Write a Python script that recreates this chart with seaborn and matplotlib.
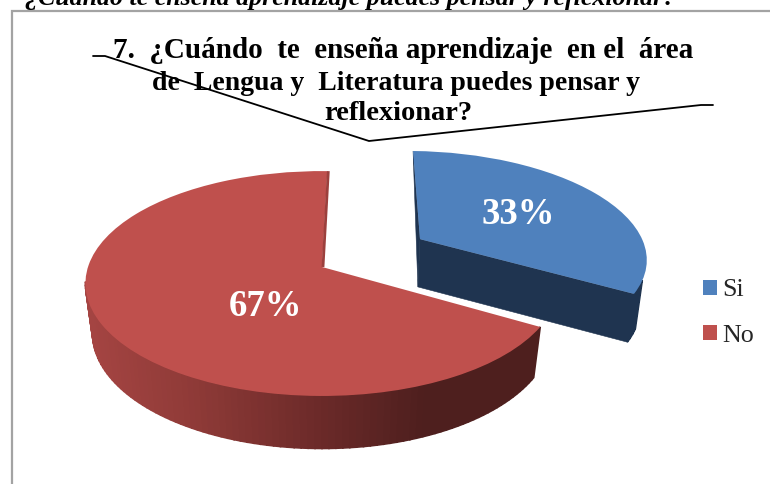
import numpy as np
import matplotlib
matplotlib.use("Agg")
import matplotlib.pyplot as plt
from matplotlib.colors import LinearSegmentedColormap
from matplotlib.transforms import Transform
import seaborn as sns

categories = ["Si", "No"]
values = [33, 67]
explode = [0.5, 0.0]
title_lines = ["7.  ¿Cuándo  te  enseña aprendizaje  en el  área",
               "de  Lengua y  Literatura puedes pensar y",
               "reflexionar?"]
cut_off_heading = "¿Cuándo te enseña aprendizaje puedes pensar y reflexionar?"
palette = sns.color_palette(["#4F81BD", "#BF504D"])
blue_side = "#1F3450"
red_wall = LinearSegmentedColormap.from_list(
    "wall", ["#A64543", "#8E3A37", "#6E2B2A", "#4E1F1E", "#4E1F1E"])

sns.set_style("white")
plt.rcParams["font.family"] = ["Liberation Serif", "DejaVu Serif"]


class PlanarProjection(Transform):
    """Perspective view of the pie's plane, giving page coordinates."""
    input_dims = output_dims = 2
    is_separable = False
    has_inverse = False

    def __init__(self, x0, y0, a, b, k=0.147):
        super().__init__()
        self.x0, self.y0, self.a, self.b, self.k = x0, y0, a, b, k

    def transform_non_affine(self, values):
        v = np.asarray(values, dtype=float).reshape(-1, 2)
        w = 1 + self.k * v[:, 1]
        return np.column_stack([self.x0 + self.a * v[:, 0] / w,
                                self.y0 - self.b * v[:, 1] / w])


top_planes = [PlanarProjection(323, 264.5, 230, 108),
              PlanarProjection(322, 267, 234, 110)]
base_planes = [PlanarProjection(323, 312.5, 225, 109),
               PlanarProjection(322, 316, 227, 113)]

fig = plt.figure(figsize=(7.7, 4.84), dpi=100, facecolor="white")
ax = fig.add_axes([0, 0, 1, 1])
wedges, label_texts, pct_texts = ax.pie(
    values, explode=explode, labels=None, colors=palette, startangle=88.5,
    counterclock=False, autopct="%1.0f%%", wedgeprops={"linewidth": 0, "edgecolor": "none"})
ax.set_aspect("auto")
ax.set_xlim(0, 770)
ax.set_ylim(484, 0)
ax.axis("off")

for w, top in zip(wedges, top_planes):
    w.set_transform(top + ax.transData)
    w.set_zorder(5)
    w.set_clip_on(False)


def rim(w, theta, proj):
    c = np.array(w.center)
    t = np.radians(theta)
    return proj.transform_non_affine(c + np.column_stack([np.cos(t), np.sin(t)]))


def apex(w, proj):
    return proj.transform_non_affine(np.array([w.center]))[0]


# outer walls, only the part below the tangent point of each rim
for w, top, base, is_red in zip(wedges, top_planes, base_planes, [False, True]):
    angles = np.arange(w.theta1, w.theta2 + 1.5, 1.5)
    angles[-1] = w.theta2
    limit = -top.k - w.center[1]
    for t0, t1 in zip(angles[:-1], angles[1:]):
        if np.sin(np.radians(t0)) > limit and np.sin(np.radians(t1)) > limit:
            continue
        p = np.vstack([rim(w, np.array([t0, t1]), top),
                       rim(w, np.array([t1, t0]), base)])
        if is_red:
            f = (p[:, 0].mean() - 85) / (537 - 85)
            col = red_wall(np.clip(f, 0, 1))
        else:
            col = blue_side
        ax.fill(p[:, 0], p[:, 1], color=col, lw=1.2, zorder=2)

# cut faces of the Si slice
si = wedges[0]
top, base = top_planes[0], base_planes[0]
end_t, start_t = si.theta1, si.theta2
front = np.vstack([apex(si, top), rim(si, np.array([end_t]), top),
                   rim(si, np.array([end_t]), base), apex(si, base)])
ax.fill(front[:, 0], front[:, 1], color=blue_side, lw=0.4, zorder=3)
back = np.vstack([rim(si, np.array([start_t]), top), apex(si, base), apex(si, top)])
ax.fill(back[:, 0], back[:, 1], color=blue_side, lw=0.4, zorder=3)

# thin cut face of the No slice (its radial edge at the top of the pie)
no = wedges[1]
sliver = np.vstack([apex(no, top_planes[1]), rim(no, np.array([no.theta1]), top_planes[1])])
ax.plot(sliver[:, 0] + 1, sliver[:, 1], color="#9C403D", lw=2, zorder=6,
        solid_capstyle="butt")

# percentage labels
for t, pos in zip(pct_texts, [(518, 214), (266, 306)]):
    t.set_transform(ax.transData)
    t.set_position(pos)
    t.set_color("white")
    t.set_fontsize(26.5)
    t.set_fontweight("bold")
    t.set_ha("center")
    t.set_va("center")
    t.set_zorder(7)

# frame
ax.plot([12, 12, 770], [484, 11, 11], color="#A3A3A3", lw=1.6, zorder=1,
        solid_joinstyle="miter", clip_on=False)

# heading cut by the top edge
ax.text(351, -2, cut_off_heading, fontsize=18.6, style="italic", fontweight="bold",
        ha="center", va="center", color="black", clip_on=False)

# title
for line, x, y, size in zip(title_lines, [403, 396, 398], [51, 84, 114], [21, 20, 20.5]):
    ax.text(x, y, line, fontsize=size, fontweight="bold",
            ha="center", va="center", color="black", zorder=8)

# callout
ax.plot([93, 105, 369, 701, 713], [56, 56, 141, 105, 105], color="black",
        lw=1.3, zorder=9, solid_joinstyle="miter")

# legend
ax.legend(wedges, categories, loc="upper left", bbox_to_anchor=(703, 279.5),
          bbox_transform=ax.transData, frameon=False, fontsize=18.7,
          handlelength=0.54, handleheight=0.54, handletextpad=0.2,
          labelspacing=0.9, borderpad=0, borderaxespad=0)

fig.savefig("out.png", dpi=100, facecolor="white")
